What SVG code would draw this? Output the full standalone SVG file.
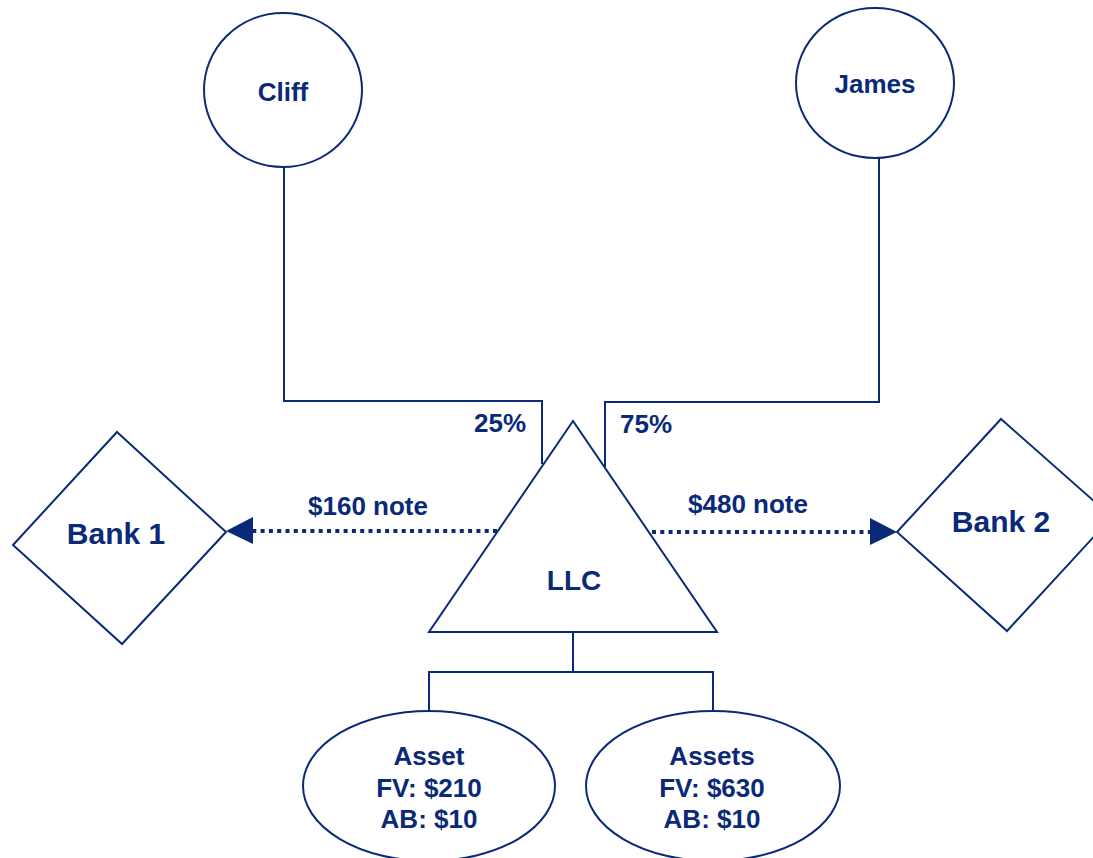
<svg xmlns="http://www.w3.org/2000/svg" width="1093" height="858" viewBox="0 0 1093 858">
<defs>
<style>
.shape{fill:#fff;stroke:#0a2a78;stroke-width:2}
.line{fill:none;stroke:#0a2a78;stroke-width:2}
.dot{fill:none;stroke:#0a2a78;stroke-width:4;stroke-dasharray:4 4.3}
.head{fill:#0a2a78}
text{font-family:"Liberation Sans",Arial,sans-serif;font-weight:bold;fill:#0a2a78;text-anchor:middle;font-size:26px}
.big{font-size:30px}
.mid{font-size:28px}
</style>
</defs>
<rect width="1093" height="858" fill="#fff"/>
<g id="connectors">
<polyline class="line" points="284,167 284,401 542,401 542,464"/>
<polyline class="line" points="879,158 879,402 605,402 605,467"/>
<polyline class="line" points="573,632 573,672"/>
<polyline class="line" points="429,711 429,672 713,672 713,711"/>
<line class="dot" x1="497" y1="531" x2="253" y2="531"/>
<polygon class="head" points="226,531 253,517 253,544"/>
<line class="dot" x1="652" y1="532" x2="870" y2="532"/>
<polygon class="head" points="897,532 870,518 870,545"/>
<text x="500" y="432">25%</text>
<text x="646" y="433">75%</text>
<text x="368" y="515">$160 note</text>
<text x="748" y="513">$480 note</text>
</g>
<g id="cliff">
<ellipse class="shape" cx="283" cy="90" rx="79" ry="77"/>
<text x="283" y="101">Cliff</text>
</g>
<g id="james">
<ellipse class="shape" cx="875" cy="83" rx="79" ry="75"/>
<text x="875" y="93">James</text>
</g>
<g id="llc">
<polygon class="shape" points="573,421 429,632 717,632"/>
<text class="mid" x="574" y="590">LLC</text>
</g>
<g id="bank1">
<polygon class="shape" points="117,432 226,532 122,644 13,545"/>
<text class="big" x="116" y="544">Bank 1</text>
</g>
<g id="bank2">
<polygon class="shape" points="1001,419 1112,517 1007,631 897,532"/>
<text class="big" x="1001" y="532">Bank 2</text>
</g>
<g id="asset1">
<ellipse class="shape" cx="429" cy="786" rx="126" ry="75"/>
<text x="429" y="765">Asset</text>
<text x="429" y="797">FV: $210</text>
<text x="429" y="828">AB: $10</text>
</g>
<g id="asset2">
<ellipse class="shape" cx="713" cy="786" rx="127" ry="75"/>
<text x="712" y="765">Assets</text>
<text x="712" y="797">FV: $630</text>
<text x="712" y="828">AB: $10</text>
</g>
</svg>
